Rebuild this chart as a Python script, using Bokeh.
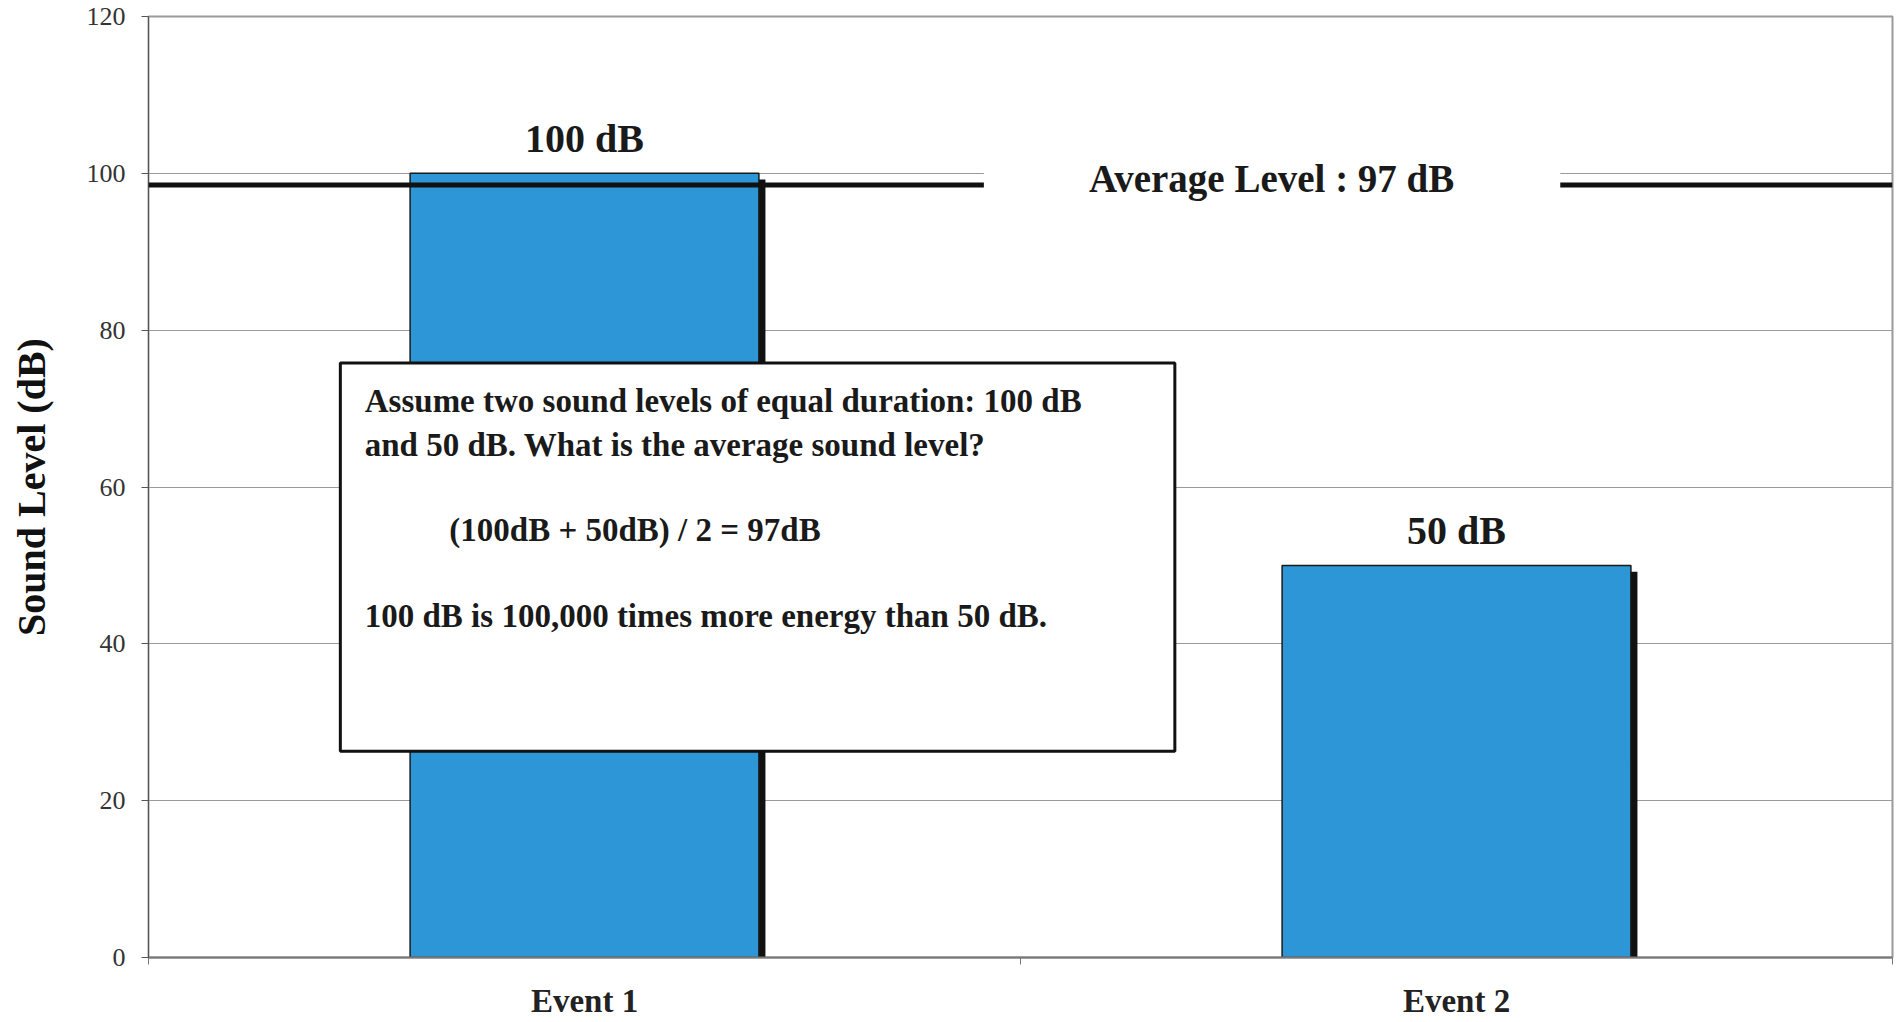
from bokeh.plotting import figure
from bokeh.models import (Range1d, FixedTicker, Label, BoxAnnotation, Span,
                          ColumnDataSource, CustomJSTickFormatter)
from bokeh.transform import dodge
from bokeh.core.properties import value
from bokeh.embed import file_html
from bokeh.resources import INLINE

# ---- data ----
categories = ["Event 1", "Event 2"]
levels = [100, 50]
level_labels = ["100 dB", "50 dB"]
average_label = "Average Level : 97 dB"
average_line_level = 98.5
y_ticks = [0, 20, 40, 60, 80, 100, 120]
note_lines = [
    "Assume two sound levels of equal duration:  100 dB",
    "and 50 dB.  What is the average sound level?",
    "(100dB + 50dB) / 2 = 97dB",
    "100 dB is 100,000 times more energy than 50 dB.",
]
y_axis_title = "Sound Level (dB)"

SERIF = "Liberation Serif"
BAR_BLUE = "#2C96D6"

n = len(categories)
centers = [i + 0.5 for i in range(n)]
boundaries = list(range(n + 1))

src = ColumnDataSource(dict(x=centers, top=levels, lab=level_labels))

p = figure(width=1902, height=1022, output_backend="svg", toolbar_location=None,
           x_range=Range1d(0, n), y_range=Range1d(0, 120),
           min_border_left=148, min_border_right=10, min_border_top=16,
           min_border_bottom=65, background_fill_color="white",
           border_fill_color="white")

p.outline_line_color = "#9a9a9a"
p.outline_line_width = 2

# axes
p.yaxis.ticker = FixedTicker(ticks=y_ticks)
p.yaxis.major_tick_out = 7
p.yaxis.major_tick_in = 0
p.yaxis.minor_tick_out = 0
p.yaxis.minor_tick_in = 0
p.yaxis.axis_line_color = "#555555"
p.yaxis.major_tick_line_color = "#555555"
p.yaxis.major_label_text_font = SERIF
p.yaxis.major_label_text_font_size = "26px"
p.yaxis.major_label_text_color = "#333333"
p.yaxis.major_label_standoff = 16
p.yaxis.axis_label = y_axis_title
p.yaxis.axis_label_text_font = SERIF
p.yaxis.axis_label_text_font_style = "bold"
p.yaxis.axis_label_text_font_size = "40px"
p.yaxis.axis_label_text_color = "#111111"
p.yaxis.axis_label_standoff = 30

p.xaxis.ticker = FixedTicker(ticks=centers, minor_ticks=boundaries)
p.xaxis.formatter = CustomJSTickFormatter(args=dict(labels=categories),
                                          code="const i = Math.floor(tick); return labels[i] ?? '';")
p.xaxis.major_tick_out = 0
p.xaxis.major_tick_in = 0
p.xaxis.minor_tick_out = 7
p.xaxis.minor_tick_in = 0
p.xaxis.minor_tick_line_color = "#777777"
p.xaxis.axis_line_color = "#777777"
p.xaxis.axis_line_width = 2
p.xaxis.major_label_text_font = SERIF
p.xaxis.major_label_text_font_style = "bold"
p.xaxis.major_label_text_font_size = "33px"
p.xaxis.major_label_text_color = "#222222"
p.xaxis.major_label_standoff = 18

p.xgrid.visible = False
p.ygrid.ticker = FixedTicker(ticks=y_ticks)
p.ygrid.grid_line_color = "#9a9a9a"
p.ygrid.grid_line_width = 1

# bar shadows and bars
p.vbar(x=dodge("x", 0.0075), top=dodge("top", -0.8), bottom=0, width=0.4, source=src,
       fill_color="#111111", line_color=None)
p.vbar(x="x", top="top", bottom=0, width=0.4, source=src,
       fill_color=BAR_BLUE, line_color="#1a1a1a", line_width=1.5)

# value labels
p.text(x="x", y="top", text="lab", source=src, y_offset=-12,
       text_align="center", text_baseline="bottom",
       text_font=value(SERIF), text_font_style="bold", text_font_size="40px",
       text_color="#1a1a1a")

# average line with label gap
p.add_layout(Span(location=average_line_level, dimension="width",
                  line_color="#111111", line_width=5))
p.add_layout(BoxAnnotation(left=0.958, right=1.619, bottom=93, top=104.5,
                           fill_color="white", fill_alpha=1.0, line_color=None))
p.add_layout(Label(x=1.288, y=99.4, text=average_label, text_align="center",
                   text_baseline="middle", text_font=SERIF, text_font_style="bold",
                   text_font_size="39px", text_color="#1a1a1a"))

# note box
p.add_layout(BoxAnnotation(left=0.220, right=1.177, bottom=26.3, top=75.8,
                           fill_color="white", fill_alpha=1.0,
                           line_color="#111111", line_alpha=1.0, line_width=3))
note_pos = [(0.248, 71.0), (0.248, 65.3), (0.345, 54.5), (0.248, 43.5)]
for (nx, ny), t in zip(note_pos, note_lines):
    p.add_layout(Label(x=nx, y=ny, text=t, text_align="left", text_baseline="middle",
                       text_font=SERIF, text_font_style="bold",
                       text_font_size="33px", text_color="#1a1a1a"))

open("out.html", "w").write(file_html(p, INLINE))
